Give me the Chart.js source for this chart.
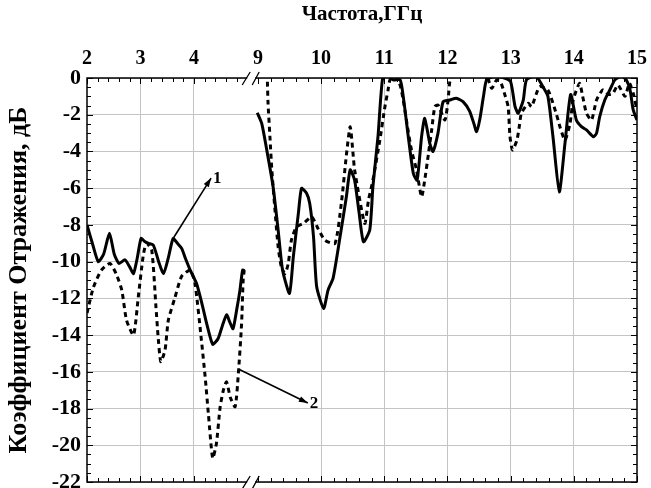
<!DOCTYPE html>
<html>
<head>
<meta charset="utf-8">
<script src="https://cdn.jsdelivr.net/npm/chart.js@4.4.1/dist/chart.umd.min.js"></script>
<style>
  html,body{margin:0;padding:0;background:#fff;}
  #wrap{width:651px;height:488px;position:relative;}
</style>
</head>
<body>
<div id="wrap"><canvas id="c" width="651" height="488"></canvas></div>
<script>
// ---- Data (frequency in GHz, reflection coefficient in dB) ----
const solidFreq = [2.0,2.1,2.21,2.31,2.42,2.51,2.60,2.71,2.80,2.87,2.94,3.01,3.08,3.15,3.24,3.34,3.43,3.52,3.61,3.69,3.77,3.85,3.93,4.05,4.15,4.24,4.35,4.45,4.53,4.61,4.67,4.73,4.80,4.86,4.91,4.95,
  8.99,9.06,9.14,9.24,9.32,9.39,9.50,9.56,9.64,9.69,9.77,9.82,9.88,9.93,10.04,10.11,10.19,10.30,10.40,10.46,10.53,10.60,10.67,10.77,10.82,10.90,10.97,11.04,11.14,11.25,11.30,11.38,11.46,11.52,11.59,11.64,11.72,11.77,11.85,11.93,12.04,12.14,12.25,12.35,12.42,12.46,12.51,12.57,12.62,12.75,12.90,13.0,13.07,13.12,13.2,13.25,13.4,13.51,13.59,13.67,13.77,13.86,13.95,14.04,14.12,14.2,14.31,14.36,14.41,14.49,14.57,14.65,14.75,14.83,14.89,14.94,15.0];
const solidDb = [-8.0,-9.0,-10.0,-9.6,-8.46,-9.6,-10.1,-9.9,-10.3,-10.65,-9.8,-8.74,-8.9,-9.0,-9.1,-10.0,-10.65,-9.8,-8.74,-9.0,-9.28,-9.9,-10.46,-11.2,-12.3,-13.4,-14.5,-14.2,-13.5,-12.9,-13.3,-13.65,-12.6,-11.55,-10.46,-10.5,
  -1.89,-2.47,-3.92,-5.92,-8.28,-10.46,-11.73,-9.74,-7.37,-6.01,-6.28,-6.83,-8.65,-11.37,-12.55,-11.55,-10.9,-8.65,-6.47,-5.0,-5.56,-7.3,-8.92,-8.28,-5.92,-3.2,-0.1,0.2,-0.1,-0.1,-1.0,-3.2,-5.2,-5.56,-3.2,-2.2,-3.56,-4.0,-3.0,-1.3,-1.2,-1.1,-1.3,-1.8,-2.5,-2.92,-2.29,-1.0,-0.1,0.1,0.0,-0.2,-1.56,-1.92,-1.2,-0.1,0.1,-0.47,-1.0,-3.2,-6.2,-3.56,-0.9,-2.29,-2.65,-2.83,-3.2,-3.0,-2.1,-1.2,-0.65,-0.1,0.1,-0.1,-0.65,-1.74,-2.29];

const dashFreq = [2.0,2.12,2.27,2.43,2.55,2.65,2.74,2.87,2.96,3.05,3.11,3.21,3.29,3.33,3.38,3.46,3.52,3.64,3.77,3.93,4.02,4.14,4.21,4.27,4.35,4.42,4.49,4.55,4.61,4.68,4.77,4.83,4.89,4.92,4.94,
  9.15,9.16,9.19,9.22,9.27,9.32,9.37,9.43,9.48,9.53,9.61,9.72,9.85,9.95,10.06,10.22,10.32,10.40,10.46,10.51,10.53,10.69,10.75,10.82,10.93,11.01,11.06,11.09,11.17,11.25,11.30,11.35,11.43,11.51,11.59,11.64,11.70,11.75,11.80,11.85,11.96,12.01,12.05,12.2,12.4,12.6,12.70,12.78,12.85,12.91,12.96,12.99,13.03,13.1,13.14,13.17,13.28,13.33,13.41,13.46,13.59,13.72,13.78,13.86,13.94,13.99,14.09,14.14,14.2,14.28,14.36,14.46,14.55,14.62,14.7,14.81,14.88,14.94,15.0];
const dashDb = [-12.8,-11.4,-10.46,-10.1,-10.7,-11.55,-13.2,-14.0,-11.9,-9.7,-9.0,-9.37,-12.5,-14.1,-15.45,-14.8,-13.2,-12.0,-10.8,-10.46,-11.2,-14.3,-16.3,-18.3,-20.7,-19.9,-17.9,-17.0,-16.55,-17.4,-17.9,-16.1,-13.4,-11.0,-10.46,
  -0.2,-1.38,-3.2,-5.0,-7.2,-9.2,-10.28,-10.65,-10.1,-8.83,-8.1,-7.92,-7.56,-8.19,-8.83,-9.0,-6.83,-4.2,-2.65,-4.29,-5.0,-7.92,-6.65,-5.56,-3.38,-1.56,-0.65,-0.1,0.1,-0.38,-1.2,-2.29,-3.92,-5.0,-6.47,-5.56,-4.1,-2.83,-1.56,-1.47,-2.29,-1.2,0.0,0.5,0.5,0.3,-0.56,-0.1,-0.3,-0.93,-1.56,-3.2,-3.92,-3.38,-2.56,-1.92,-1.38,-1.56,-0.83,-0.47,-0.65,-1.92,-2.65,-3.38,-2.47,-1.2,-0.29,-1.0,-1.92,-2.29,-1.2,-0.65,-0.9,-0.83,-0.38,-1.0,-0.29,-0.83,-1.74];

const xTickValues = [2,3,4,9,10,11,12,13,14,15];
const yTickValues = [0,-2,-4,-6,-8,-10,-12,-14,-16,-18,-20,-22];
const xTitle = 'Частота,ГГц';
const yTitle = 'Коэффициент Отражения, дБ';
const notes = [
  {label:'1', fromF:3.61, fromDb:-8.74, toF:4.32, toDb:-5.45},
  {label:'2', fromF:4.83, fromDb:-15.85, toF:9.79, toDb:-17.7}
];

// ---- Broken frequency axis: 2..~4.95 | 9..15 ----
const RIGHT_OFFSET = 3.196, RIGHT_RATIO = 1.1813, BREAK_U = 3.07;
function toU(f){ return f < 7 ? f - 2 : RIGHT_OFFSET + (f - 9) * RIGHT_RATIO; }
const U_MAX = toU(15);

function buildPoints(fr, db){
  const pts = [];
  for (let i = 0; i < fr.length; i++){
    if (i > 0 && fr[i] - fr[i-1] > 2) pts.push({x: BREAK_U, y: null});
    pts.push({x: toU(fr[i]), y: db[i]});
  }
  return pts;
}

const FONT = "'Liberation Serif','Times New Roman',serif";

const framePlugin = {
  id: 'frame',
  afterDatasetsDraw(chart){
    const {ctx, chartArea:a, scales:{x, y}} = chart;
    ctx.save();
    ctx.strokeStyle = '#000';
    ctx.lineWidth = 1;
    const xt = [];
    for (let f = 2; f <= 4.81; f += 0.2) xt.push(f);
    for (let f = 9; f <= 15.01; f += 0.2) xt.push(f);
    ctx.beginPath();
    xt.forEach(f => {
      const px = Math.round(x.getPixelForValue(toU(f))) + 0.5;
      const major = Math.abs(f - Math.round(f)) < 0.01;
      const L = major ? 6 : 4;
      ctx.moveTo(px, a.top); ctx.lineTo(px, a.top + L);
      ctx.moveTo(px, a.bottom); ctx.lineTo(px, a.bottom - L);
    });
    for (let v = 0; v >= -22; v -= 0.5){
      const py = Math.round(y.getPixelForValue(v)) + 0.5;
      const major = Math.abs(v/2 - Math.round(v/2)) < 0.01;
      const L = major ? 6 : 4;
      ctx.moveTo(a.left, py); ctx.lineTo(a.left + L, py);
      ctx.moveTo(a.right, py); ctx.lineTo(a.right - L, py);
    }
    ctx.stroke();
    ctx.lineWidth = 1.5;
    ctx.strokeRect(a.left, a.top, a.right - a.left, a.bottom - a.top);
    const bx = x.getPixelForValue(BREAK_U);
    [a.top, a.bottom].forEach(yy => {
      ctx.fillStyle = '#fff';
      ctx.fillRect(bx - 4, yy - 2, 8, 4);
      ctx.beginPath();
      ctx.lineWidth = 1.3;
      ctx.moveTo(bx - 9, yy + 7); ctx.lineTo(bx - 1, yy - 6);
      ctx.moveTo(bx + 1, yy + 7); ctx.lineTo(bx + 8, yy - 6);
      ctx.stroke();
    });
    notes.forEach(n => {
      const x0 = x.getPixelForValue(toU(n.fromF)), y0 = y.getPixelForValue(n.fromDb);
      const x1 = x.getPixelForValue(toU(n.toF)), y1 = y.getPixelForValue(n.toDb);
      ctx.beginPath();
      ctx.lineWidth = 1.6;
      ctx.moveTo(x0, y0); ctx.lineTo(x1, y1); ctx.stroke();
      const ang = Math.atan2(y1 - y0, x1 - x0);
      ctx.beginPath();
      ctx.fillStyle = '#000';
      ctx.moveTo(x1, y1);
      ctx.lineTo(x1 - 9*Math.cos(ang) + 3*Math.sin(ang), y1 - 9*Math.sin(ang) - 3*Math.cos(ang));
      ctx.lineTo(x1 - 9*Math.cos(ang) - 3*Math.sin(ang), y1 - 9*Math.sin(ang) + 3*Math.cos(ang));
      ctx.closePath(); ctx.fill();
      ctx.font = 'bold 17px ' + FONT;
      ctx.textAlign = 'left'; ctx.textBaseline = 'middle';
      ctx.fillText(n.label, x1 + 2, y1 + 1);
    });
    ctx.restore();
  }
};

new Chart(document.getElementById('c'), {
  type: 'line',
  data: {
    datasets: [
      {label:'1', data: buildPoints(solidFreq, solidDb), borderColor:'#000', borderWidth:3, pointRadius:0, tension:0.2, spanGaps:false},
      {label:'2', data: buildPoints(dashFreq, dashDb), borderColor:'#000', borderWidth:3, borderDash:[5,4], pointRadius:0, tension:0.2, spanGaps:false}
    ]
  },
  options: {
    responsive:false, animation:false,
    layout:{padding:{left:0, right:14, top:0, bottom:6}},
    plugins:{legend:{display:false}, tooltip:{enabled:false}},
    scales:{
      x:{
        type:'linear', position:'top', min:0, max:U_MAX,
        afterBuildTicks: s => { s.ticks = xTickValues.map(v => ({value: toU(v)})); },
        afterFit: s => { s.height = 78; s.paddingLeft = 0; s.paddingRight = 0; },
        ticks:{autoSkip:false, maxRotation:0, padding:7, color:'#000',
          font:{family:FONT, size:20, weight:'bold'},
          callback:(val, i) => String(xTickValues[i])},
        grid:{drawTicks:false, color: c => {
          const v = xTickValues[c.index];
          return (v === 2 || v === 9 || v === 15) ? 'rgba(0,0,0,0)' : '#c4c4c4';
        }, lineWidth:1},
        border:{display:false},
        title:{display:true, text:xTitle, color:'#000', font:{family:FONT, size:21, weight:'bold'}, padding:{top:2, bottom:4}}
      },
      y:{
        type:'linear', min:-22, max:0,
        afterBuildTicks: s => { s.ticks = yTickValues.map(v => ({value:v})); },
        afterFit: s => { s.width = 87; s.paddingTop = 0; s.paddingBottom = 0; },
        ticks:{autoSkip:false, padding:6, color:'#000',
          font:{family:FONT, size:22, weight:'bold'},
          callback: v => String(v)},
        grid:{drawTicks:false, color:'#c4c4c4', lineWidth:1},
        border:{display:false},
        title:{display:true, text:yTitle, color:'#000', font:{family:FONT, size:26, weight:'bold'}, padding:{top:4, bottom:0}}
      }
    }
  },
  plugins:[framePlugin]
});
</script>
</body>
</html>
